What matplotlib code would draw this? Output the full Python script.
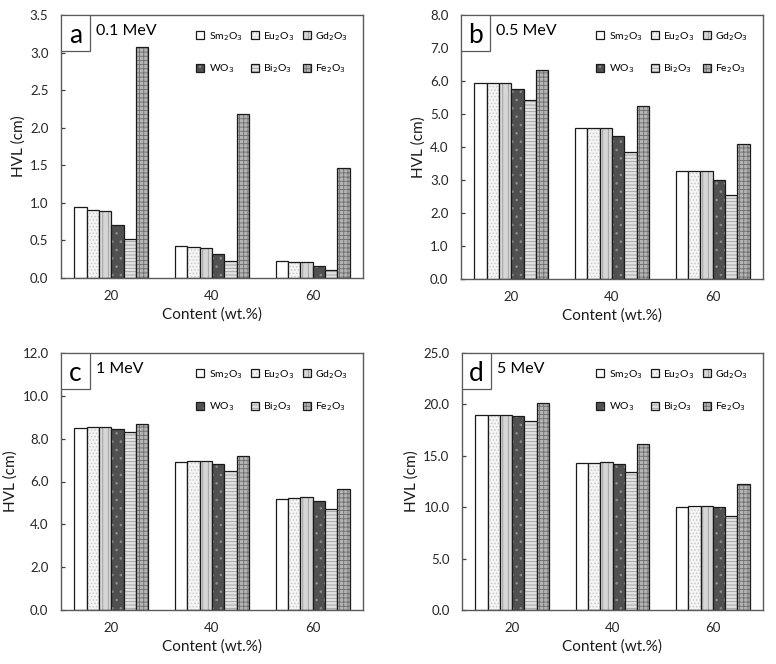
import numpy as np
import matplotlib
matplotlib.use("Agg")
import matplotlib.pyplot as plt
from matplotlib.patches import Rectangle
from matplotlib.legend_handler import HandlerTuple

plt.rcParams['font.family'] = ['Lato', 'DejaVu Sans']
plt.rcParams['hatch.linewidth'] = 0.6

# data (HVL in cm)
contents = ['20', '40', '60']
oxides = ['Sm$_2$O$_3$', 'Eu$_2$O$_3$', 'Gd$_2$O$_3$', 'WO$_3$', 'Bi$_2$O$_3$', 'Fe$_2$O$_3$']

hvl_01 = [[0.94, 0.43, 0.22],
          [0.91, 0.41, 0.21],
          [0.89, 0.40, 0.21],
          [0.71, 0.32, 0.16],
          [0.52, 0.22, 0.11],
          [3.07, 2.18, 1.47]]
hvl_05 = [[5.94, 4.59, 3.27],
          [5.94, 4.59, 3.28],
          [5.94, 4.59, 3.28],
          [5.76, 4.33, 3.01],
          [5.42, 3.84, 2.54],
          [6.33, 5.25, 4.10]]
hvl_1 = [[8.52, 6.90, 5.19],
         [8.54, 6.94, 5.25],
         [8.56, 6.96, 5.27],
         [8.47, 6.81, 5.11],
         [8.29, 6.51, 4.73],
         [8.67, 7.21, 5.66]]
hvl_5 = [[18.93, 14.29, 10.00],
         [18.93, 14.33, 10.07],
         [18.97, 14.37, 10.12],
         [18.83, 14.19, 10.00],
         [18.41, 13.47, 9.19],
         [20.13, 16.17, 12.27]]

panels = [('a', '0.1 MeV', hvl_01, 3.5, 0.5),
          ('b', '0.5 MeV', hvl_05, 8.0, 1.0),
          ('c', '1 MeV', hvl_1, 12.0, 2.0),
          ('d', '5 MeV', hvl_5, 25.0, 5.0)]

# face colour, hatch, hatch colour for each oxide
styles = [('white', '', 'white'),
          ('#f4f4f4', '.....', '#c8c8c8'),
          ('#d6d6d6', '|||', '#9a9a9a'),
          ('#505050', '..', '#8c8c8c'),
          ('#e2e2e2', '-----', '#9c9c9c'),
          ('#b4b4b4', '++++', '#6e6e6e')]

W, H = 7.76, 6.64
fig = plt.figure(figsize=(W, H), dpi=100)

# axes boxes in pixels: left, top, right, bottom
boxes = [(61, 15, 363, 278), (461, 15, 763, 279),
         (61, 353, 363, 610), (462, 353, 763, 610)]

bw = 0.1225
x = np.arange(len(contents))
# legend fills column by column; reorder so it reads row by row
order = [0, 3, 1, 4, 2, 5]

for (letter, energy, data, ymax, step), (l, t, r, b) in zip(panels, boxes):
    ax = fig.add_axes([l / 776, 1 - b / 664, (r - l) / 776, (b - t) / 664])
    aw, ah = r - l, b - t
    handles = []
    for i, vals in enumerate(data):
        fc, hatch, hc = styles[i]
        pos = x + (i - 2.5) * bw
        p1 = ax.bar(pos, vals, bw, color=fc, hatch=hatch, edgecolor=hc, linewidth=0)
        p2 = ax.bar(pos, vals, bw, fill=False, edgecolor='#1a1a1a', linewidth=0.9)
        handles.append((p1[0], p2[0]))

    ax.set_xlim(-0.5, 2.5)
    ax.set_ylim(0, ymax)
    yt = np.arange(0, ymax + step / 2, step)
    ax.set_yticks(yt)
    ax.set_yticklabels(['%.1f' % v for v in yt])
    ax.set_xticks(x)
    ax.set_xticklabels(contents)
    ax.tick_params(axis='y', direction='in', length=3, width=0.9, color='#404040',
                   labelsize=9.5, pad=9, labelcolor='#262626')
    ax.tick_params(axis='x', length=0, labelsize=9.5, pad=8.5, labelcolor='#262626')
    for s in ax.spines.values():
        s.set_color('#5a5a5a')
        s.set_linewidth(1.0)
    ax.set_ylabel('HVL (cm)', fontsize=11, labelpad=3, color='#1a1a1a')
    ax.set_xlabel('Content (wt.%)', fontsize=11, labelpad=4, color='#1a1a1a')

    # letter box in the top-left corner
    bh = 36 / ah
    bwid = 29 / aw
    ax.add_patch(Rectangle((0, 1 - bh), bwid, bh, transform=ax.transAxes,
                           facecolor='white', edgecolor='#5a5a5a', linewidth=0.9,
                           zorder=5))
    ax.text(bwid / 2, 1 - bh / 2 - 0.008, letter, transform=ax.transAxes,
            ha='center', va='center', fontsize=19, zorder=6)
    ax.text(bwid + 6 / aw, 1 - 16 / ah, energy, transform=ax.transAxes,
            ha='left', va='center', fontsize=11.5, zorder=6)

    ax.legend([handles[k] for k in order], [oxides[k] for k in order],
              handler_map={tuple: HandlerTuple(ndivide=1)},
              ncol=3, loc='upper right',
              bbox_to_anchor=(1 - 15 / aw, 1 - 15 / ah),
              borderaxespad=0, borderpad=0,
              frameon=False, fontsize=7.5, handlelength=0.8, handleheight=0.8,
              handletextpad=0.4, columnspacing=0.8, labelspacing=1.9)

fig.savefig('out.png', dpi=100)
